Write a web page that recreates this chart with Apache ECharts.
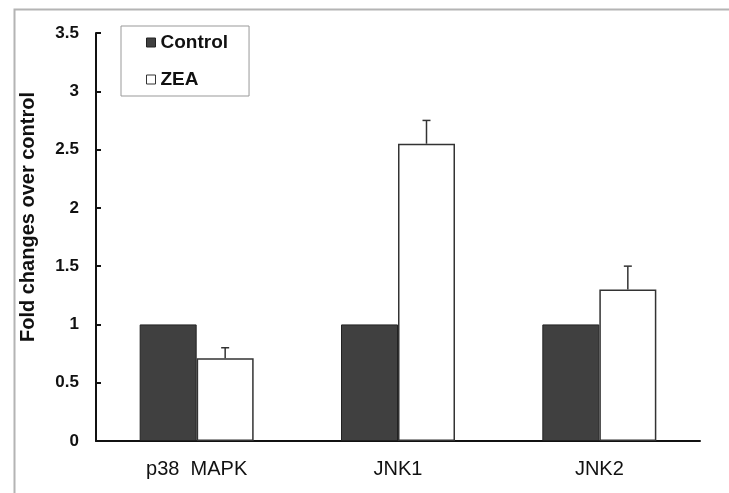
<!DOCTYPE html>
<html>
<head>
    <meta charset="UTF-8">
    <title>Fold changes</title>
    <style>
        html, body { margin: 0; padding: 0; background: #fff; }
    </style>
</head>
<body>
    <div id="container" style="width: 729px;height: 493px;"></div>
    <script src="https://cdn.jsdelivr.net/npm/echarts@6/dist/echarts.min.js"></script>
    <script type="text/javascript">
        // data
        var categories = ['p38  MAPK', 'JNK1', 'JNK2'];
        var controlValues = [1, 1, 1];
        var zeaValues = [0.71, 2.55, 1.30];
        var zeaErrors = [0.09, 0.20, 0.20];
        var yTicks = [0, 0.5, 1, 1.5, 2, 2.5, 3, 3.5];

        var BAR_W = 57;
        var font = 'Liberation Sans, Arial, sans-serif';

        var errData = zeaValues.map(function (v, i) {
            return [i, v, zeaErrors[i]];
        });

        var myChart = echarts.init(document.getElementById('container'));
        var option = {
            backgroundColor: '#fff',
            animation: false,
            graphic: [{
                // outer frame of the figure
                type: 'rect',
                left: 12, top: 7,
                shape: { width: 760, height: 540 },
                style: { fill: 'none', stroke: '#b4b4b4', lineWidth: 2 },
                silent: true
            }],
            legend: {
                orient: 'vertical',
                left: 121,
                top: 26,
                padding: [7, 21, 7, 25],
                itemWidth: 9,
                itemHeight: 9,
                itemGap: 18,
                borderColor: '#999',
                borderWidth: 1,
                textStyle: {
                    fontFamily: font,
                    fontWeight: 'bold',
                    fontSize: 19,
                    lineHeight: 19,
                    color: '#111'
                },
                data: [
                    { name: 'Control', icon: 'rect', itemStyle: { color: '#404040', borderColor: '#222', borderWidth: 1 } },
                    { name: 'ZEA', icon: 'rect', itemStyle: { color: '#fff', borderColor: '#333', borderWidth: 1 } }
                ]
            },
            grid: { left: 96, right: 29, top: 33, bottom: 52 },
            xAxis: {
                type: 'category',
                data: categories,
                axisLine: { lineStyle: { color: '#111', width: 2 } },
                axisTick: { inside: true, length: 6, lineStyle: { color: '#111', width: 2 } },
                axisLabel: {
                    fontFamily: font,
                    fontSize: 20,
                    color: '#111',
                    margin: 18
                }
            },
            yAxis: {
                type: 'value',
                min: yTicks[0],
                max: yTicks[yTicks.length - 1],
                interval: yTicks[1] - yTicks[0],
                name: 'Fold changes over control',
                nameLocation: 'middle',
                nameGap: 58,
                nameTextStyle: {
                    fontFamily: font,
                    fontWeight: 'bold',
                    fontSize: 20,
                    color: '#111',
                    padding: [0, 0, 0, 40]
                },
                splitLine: { show: false },
                axisLine: { show: true, lineStyle: { color: '#111', width: 2 } },
                axisTick: { show: true, inside: true, length: 5, lineStyle: { color: '#111', width: 2 } },
                axisLabel: {
                    fontFamily: font,
                    fontWeight: 'bold',
                    fontSize: 17,
                    color: '#111',
                    margin: 17
                }
            },
            series: [{
                name: 'Control',
                type: 'bar',
                data: controlValues,
                barWidth: BAR_W,
                barGap: '0%',
                itemStyle: { color: '#404040', borderColor: '#222', borderWidth: 1 }
            }, {
                name: 'ZEA',
                type: 'bar',
                data: zeaValues,
                barWidth: BAR_W,
                barGap: '0%',
                itemStyle: { color: '#fff', borderColor: '#333', borderWidth: 1.5 }
            }, {
                name: 'err',
                type: 'custom',
                data: errData,
                z: 5,
                renderItem: function (params, api) {
                    var base = api.coord([api.value(0), api.value(1)]);
                    var top = api.coord([api.value(0), api.value(1) + api.value(2)]);
                    var x = base[0] + BAR_W / 2;
                    var st = { stroke: '#333', lineWidth: 1.5 };
                    return {
                        type: 'group',
                        children: [{
                            type: 'line',
                            shape: { x1: x, y1: base[1], x2: x, y2: top[1] },
                            style: st
                        }, {
                            type: 'line',
                            shape: { x1: x - 4, y1: top[1], x2: x + 4, y2: top[1] },
                            style: st
                        }]
                    };
                }
            }]
        };
        myChart.setOption(option);
    </script>
</body>
</html>
